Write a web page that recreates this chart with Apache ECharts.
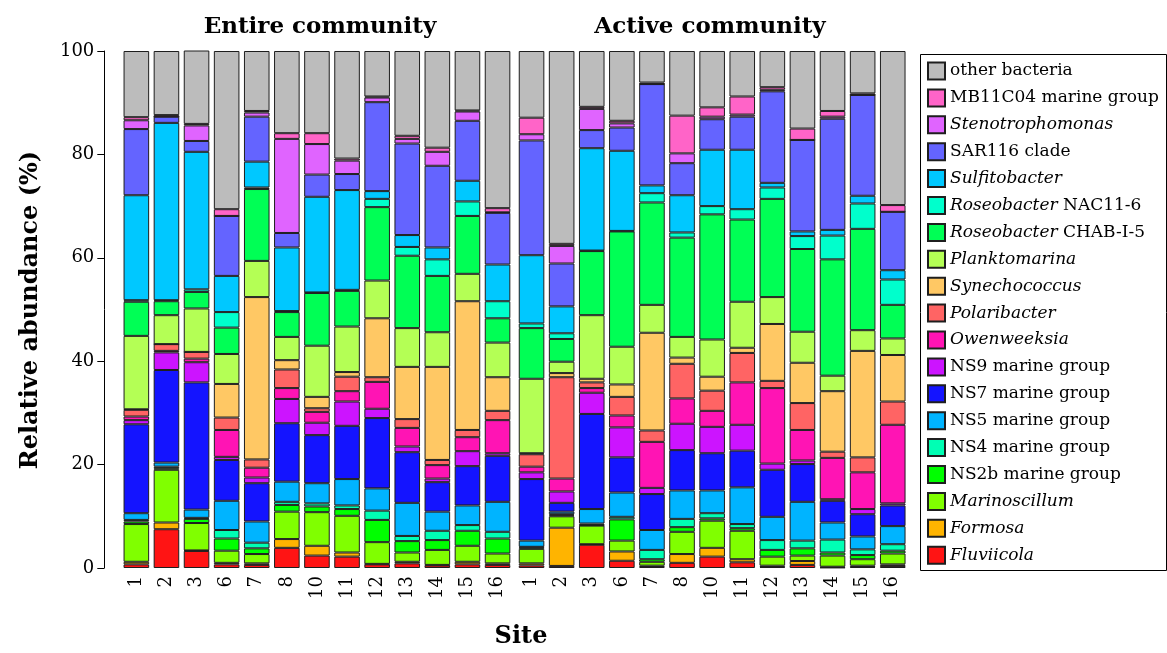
<!DOCTYPE html>
<html>
<head>
<meta charset="utf-8">
<title>Relative abundance by site</title>
<script src="https://cdn.jsdelivr.net/npm/echarts@6/dist/echarts.min.js"></script>
<style>
  html, body { margin: 0; padding: 0; background: #fff; }
  #chart { width: 1167px; height: 653px; }
</style>
</head>
<body>
<div id="chart"></div>
<script>
// Sampling sites (same order in both panels)
const sites = ['1', '2', '3', '6', '7', '8', '10', '11', '12', '13', '14', '15', '16'];
const yTicks = [0, 20, 40, 60, 80, 100];

// Relative abundance (%) per taxon — entire community (DNA)
const fluviicolaE    = [0.7, 7.5, 3.3, 0.7, 0.6, 3.9, 2.4, 2.2, 0.7, 0.9, 0.5, 0.7, 0.6];
const formosaE       = [0.5, 1.3, 0.1, 0.3, 0.3, 1.7, 1.9, 0.8, 0.1, 0.3, 0.1, 0.5, 0.3];
const marinoscillumE = [7.3, 10.2, 5.3, 2.35, 1.8, 5.3, 6.5, 7.1, 4.2, 1.8, 2.9, 3.1, 1.9];
const ns2bE          = [0.5, 0.3, 0.8, 2.35, 1.1, 1.3, 1.1, 1.3, 4.3, 2.2, 1.9, 2.9, 2.9];
const ns4E           = [0.3, 0.3, 0.2, 1.65, 1.1, 0.6, 0.6, 0.7, 1.8, 1.0, 1.8, 1.1, 1.3];
const ns5E           = [1.3, 0.8, 1.6, 5.65, 4.1, 3.9, 3.9, 5.1, 4.3, 6.4, 3.7, 3.8, 5.8];
const ns7E           = [17.2, 17.9, 24.6, 7.9, 7.4, 11.3, 9.3, 10.3, 13.6, 9.8, 5.7, 7.6, 8.9];
const ns9E           = [0.8, 3.4, 3.9, 0.6, 1.1, 4.7, 2.4, 4.7, 1.8, 1.1, 0.7, 2.9, 0.5];
const owenweeksiaE   = [0.7, 0.3, 0.7, 5.2, 1.9, 2.1, 2.1, 2.0, 5.2, 3.6, 2.6, 2.7, 6.4];
const polaribacterE  = [1.3, 1.3, 1.3, 2.4, 1.6, 3.6, 0.7, 2.8, 0.9, 1.7, 1.0, 1.4, 1.8];
const synechococcusE = [0.1, 0, 0, 6.5, 31.4, 1.8, 2.2, 0.9, 11.4, 10.1, 18.0, 24.9, 6.5];
const planktomarinaE = [14.2, 5.6, 8.4, 5.8, 7.0, 4.5, 9.9, 8.8, 7.3, 7.5, 6.7, 5.3, 6.7];
const chabE          = [6.6, 2.7, 3.2, 5.1, 13.9, 4.8, 10.2, 6.9, 14.2, 14.0, 10.9, 11.2, 4.7];
const nacE           = [0.3, 0.2, 0.5, 3.0, 0.3, 0.2, 0.1, 0.2, 1.6, 1.7, 3.2, 2.8, 3.3];
const sulfitobacterE = [20.3, 34.3, 26.6, 7.0, 5.0, 12.3, 18.5, 19.3, 1.5, 2.3, 2.3, 4.0, 7.1];
const sar116E        = [12.8, 1.2, 2.1, 11.6, 8.7, 2.8, 4.3, 3.1, 17.2, 17.7, 15.8, 11.6, 10.0];
const stenoE         = [1.7, 0, 3.0, 0, 0.8, 18.2, 5.9, 2.6, 0.9, 0.9, 2.7, 1.8, 0.1];
const mb11c04E       = [0.6, 0.3, 0.3, 1.3, 0.3, 1.1, 2.1, 0.4, 0.2, 0.6, 0.8, 0.2, 0.8];
const otherE         = [12.8, 12.4, 14.2, 30.6, 11.6, 15.9, 15.9, 20.8, 8.8, 16.4, 18.7, 11.5, 30.4];

// Relative abundance (%) per taxon — active community (RNA)
const fluviicolaA    = [0.5, 0.4, 4.5, 1.4, 0.2, 1.0, 2.2, 1.1, 0.2, 0.6, 0.1, 0.2, 0.4];
const formosaA       = [0.4, 7.4, 0.1, 1.8, 0.25, 1.7, 1.7, 0.6, 0.25, 0.75, 0.15, 0.25, 0.3];
const marinoscillumA = [2.8, 2.2, 3.6, 2.1, 0.75, 4.3, 5.25, 5.5, 1.75, 1.05, 2.15, 1.25, 2.1];
const ns2bA          = [0.3, 0.2, 0.1, 4.1, 0.5, 0.9, 0.45, 0.5, 1.3, 1.4, 0.6, 0.8, 0.55];
const ns4A           = [0.1, 0.2, 0.3, 0.5, 1.8, 1.6, 1.0, 0.8, 1.9, 1.5, 2.5, 1.1, 1.25];
const ns5A           = [1.2, 0.5, 2.8, 4.7, 3.85, 5.5, 4.4, 7.1, 4.5, 7.5, 3.3, 2.5, 3.5];
const ns7A           = [11.9, 1.7, 18.4, 6.8, 6.95, 7.8, 7.2, 7.1, 9.1, 7.3, 4.2, 4.3, 4.0];
const ns9A           = [1.3, 2.2, 4.1, 5.8, 1.2, 5.1, 5.1, 5.0, 1.2, 0.7, 0.3, 1.0, 0.4];
const owenweeksiaA   = [1.1, 2.5, 0.9, 2.3, 8.9, 4.9, 3.1, 8.2, 14.6, 5.9, 8.0, 7.1, 15.2];
const polaribacterA  = [2.4, 19.6, 1.1, 3.6, 2.2, 6.7, 3.9, 5.7, 1.4, 5.2, 1.2, 2.9, 4.5];
const synechococcusA = [0.2, 0.8, 0.7, 2.4, 18.9, 1.2, 2.7, 1.0, 11.0, 7.8, 11.7, 20.6, 9.0];
const planktomarinaA = [14.4, 2.2, 12.3, 7.3, 5.4, 4.0, 7.2, 8.9, 5.2, 6.0, 3.0, 4.0, 3.2];
const chabA          = [9.8, 4.4, 12.4, 22.3, 19.8, 19.2, 24.2, 15.9, 19.0, 16.0, 22.5, 19.6, 6.5];
const nacA           = [0.9, 1.1, 0.1, 0.1, 1.8, 1.0, 1.6, 2.0, 2.2, 2.5, 4.6, 4.9, 4.9];
const sulfitobacterA = [13.2, 5.2, 19.8, 15.5, 1.5, 7.2, 10.9, 11.5, 0.9, 0.9, 1.1, 1.5, 1.8];
const sar116A        = [22.2, 8.3, 3.5, 4.5, 19.6, 6.2, 5.9, 6.4, 17.7, 17.7, 21.5, 19.5, 11.3];
const stenoA         = [1.2, 3.4, 4.1, 0.8, 0, 1.9, 0.5, 0.4, 0.3, 0, 0.4, 0, 0];
const mb11c04A       = [3.2, 0.4, 0.4, 0.5, 0.3, 7.3, 1.8, 3.5, 0.5, 2.2, 1.1, 0.3, 1.3];
const otherA         = [12.9, 37.3, 10.8, 13.5, 6.1, 12.5, 10.9, 8.8, 7.0, 15.0, 11.6, 8.2, 29.8];

// Taxa in stacking order (bottom to top); italic part marked for the legend
const taxa = [
  { name: 'Fluviicola',             label: '{i|Fluviicola}',               color: '#ff1414', e: fluviicolaE,    a: fluviicolaA },
  { name: 'Formosa',                label: '{i|Formosa}',                  color: '#ffb400', e: formosaE,       a: formosaA },
  { name: 'Marinoscillum',          label: '{i|Marinoscillum}',            color: '#80ff00', e: marinoscillumE, a: marinoscillumA },
  { name: 'NS2b marine group',      label: '{n|NS2b marine group}',        color: '#00ff00', e: ns2bE,          a: ns2bA },
  { name: 'NS4 marine group',       label: '{n|NS4 marine group}',         color: '#00ffb4', e: ns4E,           a: ns4A },
  { name: 'NS5 marine group',       label: '{n|NS5 marine group}',         color: '#00b4ff', e: ns5E,           a: ns5A },
  { name: 'NS7 marine group',       label: '{n|NS7 marine group}',         color: '#1414ff', e: ns7E,           a: ns7A },
  { name: 'NS9 marine group',       label: '{n|NS9 marine group}',         color: '#cc14ff', e: ns9E,           a: ns9A },
  { name: 'Owenweeksia',            label: '{i|Owenweeksia}',              color: '#ff14b4', e: owenweeksiaE,   a: owenweeksiaA },
  { name: 'Polaribacter',           label: '{i|Polaribacter}',             color: '#ff6464', e: polaribacterE,  a: polaribacterA },
  { name: 'Synechococcus',          label: '{i|Synechococcus}',            color: '#ffc864', e: synechococcusE, a: synechococcusA },
  { name: 'Planktomarina',          label: '{i|Planktomarina}',            color: '#b4ff55', e: planktomarinaE, a: planktomarinaA },
  { name: 'Roseobacter CHAB-I-5',   label: '{i|Roseobacter}{n| CHAB-I-5}', color: '#00ff55', e: chabE,          a: chabA },
  { name: 'Roseobacter NAC11-6',    label: '{i|Roseobacter}{n| NAC11-6}',  color: '#00ffcc', e: nacE,           a: nacA },
  { name: 'Sulfitobacter',          label: '{i|Sulfitobacter}',            color: '#00c8ff', e: sulfitobacterE, a: sulfitobacterA },
  { name: 'SAR116 clade',           label: '{n|SAR116 clade}',             color: '#6464ff', e: sar116E,        a: sar116A },
  { name: 'Stenotrophomonas',       label: '{i|Stenotrophomonas}',         color: '#e064ff', e: stenoE,         a: stenoA },
  { name: 'MB11C04 marine group',   label: '{n|MB11C04 marine group}',     color: '#ff64c8', e: mb11c04E,       a: mb11c04A },
  { name: 'other bacteria',         label: '{n|other bacteria}',           color: '#bcbcbc', e: otherE,         a: otherA }
];

const FONT = '"DejaVu Serif", "Liberation Serif", serif';
const labelByName = {};
taxa.forEach(t => { labelByName[t.name] = t.label; });

const plotTop = 51;
const plotHeight = 517;

function xAxisFor(gridIndex) {
  return {
    type: 'category', gridIndex: gridIndex, data: sites,
    axisLine: { show: false }, axisTick: { show: false },
    axisLabel: { rotate: 90, margin: 8, fontFamily: FONT, fontSize: 18, color: '#000' }
  };
}

const series = [];
taxa.forEach(t => {
  const common = {
    name: t.name, type: 'bar', barCategoryGap: '15%',
    itemStyle: { color: t.color, borderColor: '#1e1e1e', borderWidth: 1 },
    emphasis: { disabled: true }, animation: false
  };
  series.push(Object.assign({}, common, { xAxisIndex: 0, yAxisIndex: 0, stack: 'entire', data: t.e }));
  series.push(Object.assign({}, common, { xAxisIndex: 1, yAxisIndex: 1, stack: 'active', data: t.a }));
});

const chart = echarts.init(document.getElementById('chart'), null, { renderer: 'canvas' });
chart.setOption({
  animation: false,
  backgroundColor: '#fff',
  grid: [
    { left: 121.3, width: 391.3, top: plotTop, height: plotHeight },
    { left: 516.5, width: 391.3, top: plotTop, height: plotHeight }
  ],
  xAxis: [xAxisFor(0), xAxisFor(1)],
  yAxis: [
    {
      type: 'value', gridIndex: 0, min: yTicks[0], max: yTicks[yTicks.length - 1], interval: 20,
      offset: 17,
      axisLine: { show: true, lineStyle: { color: '#000', width: 1 } },
      axisTick: { show: true, length: 7, lineStyle: { color: '#000' } },
      axisLabel: { margin: 10, fontFamily: FONT, fontSize: 18, color: '#000' },
      splitLine: { show: false }
    },
    {
      type: 'value', gridIndex: 1, min: 0, max: 100, interval: 20, show: false,
      splitLine: { show: false }
    }
  ],
  legend: {
    orient: 'vertical', left: 922, top: 56.5,
    itemWidth: 17, itemHeight: 17, itemGap: 7.9,
    icon: 'rect',
    selectedMode: false,
    data: taxa.map(t => t.name).reverse(),
    formatter: name => labelByName[name],
    textStyle: {
      fontFamily: FONT, fontSize: 17, color: '#000',
      rich: {
        i: { fontFamily: FONT, fontSize: 17, fontStyle: 'italic', color: '#000', lineHeight: 17 },
        n: { fontFamily: FONT, fontSize: 17, color: '#000', lineHeight: 17 }
      }
    }
  },
  graphic: [
    { type: 'rect', left: 918, top: 52, shape: { x: 0, y: 0, width: 246, height: 516 },
      style: { fill: 'none', stroke: '#000', lineWidth: 1 }, silent: true },
    { type: 'text', x: 320, y: 27, style: { text: 'Entire community', font: 'bold 23px ' + FONT,
      textAlign: 'center', textVerticalAlign: 'middle', fill: '#000' } },
    { type: 'text', x: 710, y: 27, style: { text: 'Active community', font: 'bold 23px ' + FONT,
      textAlign: 'center', textVerticalAlign: 'middle', fill: '#000' } },
    { type: 'text', x: 521, y: 637, style: { text: 'Site', font: 'bold 24px ' + FONT,
      textAlign: 'center', textVerticalAlign: 'middle', fill: '#000' } },
    { type: 'text', x: 31, y: 310, rotation: Math.PI / 2,
      style: { text: 'Relative abundance (%)', font: 'bold 24px ' + FONT,
        textAlign: 'center', textVerticalAlign: 'middle', fill: '#000' } }
  ],
  series: series
});
</script>
</body>
</html>
